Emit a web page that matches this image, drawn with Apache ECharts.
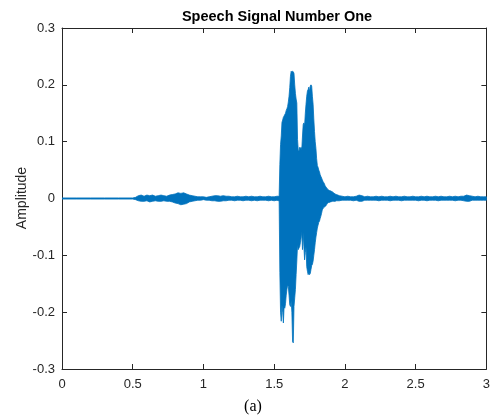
<!DOCTYPE html>
<html>
<head>
<meta charset="utf-8">
<script src="https://cdn.jsdelivr.net/npm/echarts@6/dist/echarts.min.js"></script>
<style>
  html, body { margin: 0; padding: 0; background: #fff; }
  #main { width: 493px; height: 417px; }
</style>
</head>
<body>
<div id="main"></div>
<script>
// time (s) of each envelope reading
var tSec = [
  0, 0.1, 0.2, 0.3, 0.4, 0.5,
  0.52, 0.54, 0.56, 0.58, 0.60, 0.62, 0.64, 0.66, 0.68, 0.70,
  0.72, 0.74, 0.76, 0.78, 0.80, 0.82, 0.84, 0.86, 0.88, 0.90,
  0.92, 0.94, 0.96, 0.98, 1.00, 1.02, 1.04, 1.06, 1.08, 1.10,
  1.12, 1.14, 1.16, 1.18, 1.20, 1.22, 1.24, 1.26, 1.28, 1.30,
  1.32, 1.34, 1.36, 1.38, 1.40, 1.42, 1.44, 1.46, 1.48, 1.50,
  1.52, 1.53,
  1.535, 1.540, 1.545, 1.550, 1.555, 1.560, 1.565, 1.570, 1.575, 1.580,
  1.585, 1.590, 1.595, 1.600, 1.605, 1.610, 1.615, 1.620, 1.625, 1.630,
  1.635, 1.640, 1.645, 1.650, 1.655, 1.660, 1.665, 1.670, 1.675, 1.680,
  1.685, 1.690, 1.695, 1.700, 1.705, 1.710, 1.715, 1.720, 1.725, 1.730,
  1.735, 1.740, 1.745, 1.750, 1.755, 1.760, 1.765, 1.770, 1.775, 1.780,
  1.785, 1.790, 1.795, 1.800, 1.805, 1.810, 1.815, 1.820, 1.825, 1.830,
  1.835, 1.840, 1.845, 1.850, 1.855, 1.860, 1.865, 1.870, 1.875, 1.880,
  1.885, 1.890, 1.895, 1.900, 1.910, 1.920, 1.930, 1.940, 1.950, 1.960,
  1.98, 2.00, 2.02, 2.04, 2.06, 2.08, 2.10, 2.12, 2.14, 2.16,
  2.18, 2.20, 2.22, 2.24, 2.26, 2.28, 2.30, 2.32, 2.34, 2.36,
  2.38, 2.40, 2.42, 2.44, 2.46, 2.48, 2.50, 2.52, 2.54, 2.56,
  2.58, 2.60, 2.62, 2.64, 2.66, 2.68, 2.70, 2.72, 2.74, 2.76,
  2.78, 2.80, 2.82, 2.84, 2.86, 2.88, 2.90, 2.92, 2.94, 2.96,
  2.98, 3.00
];

// upper envelope (positive peaks)
var hiAmp = [
  0.001, 0.001, 0.001, 0.001, 0.001, 0.001,
  0.002, 0.005, 0.006, 0.004, 0.006, 0.005, 0.006, 0.004, 0.005, 0.006,
  0.005, 0.004, 0.006, 0.007, 0.008, 0.010, 0.009, 0.010, 0.008, 0.006,
  0.005, 0.004, 0.003, 0.003, 0.003, 0.002, 0.003, 0.004, 0.005, 0.005,
  0.004, 0.005, 0.004, 0.004, 0.003, 0.003, 0.004, 0.003, 0.003, 0.004,
  0.003, 0.004, 0.003, 0.003, 0.004, 0.003, 0.003, 0.004, 0.003, 0.003,
  0.004, 0.004,
  0.005, 0.060, 0.095, 0.110, 0.134, 0.138, 0.143, 0.145, 0.148, 0.150,
  0.155, 0.158, 0.162, 0.170, 0.180, 0.195, 0.215, 0.224, 0.222, 0.224,
  0.223, 0.220, 0.200, 0.185, 0.175, 0.168, 0.104, 0.085, 0.083, 0.090,
  0.088, 0.090, 0.086, 0.110, 0.130, 0.133, 0.128, 0.150, 0.166, 0.180,
  0.189, 0.192, 0.196, 0.188, 0.198, 0.200, 0.198, 0.180, 0.166, 0.140,
  0.118, 0.100, 0.088, 0.070, 0.058, 0.055, 0.050, 0.047, 0.042, 0.039,
  0.036, 0.033, 0.030, 0.028, 0.026, 0.022, 0.021, 0.019, 0.017, 0.016,
  0.015, 0.014, 0.014, 0.013, 0.012, 0.010, 0.008, 0.007, 0.006, 0.005,
  0.004, 0.003, 0.004, 0.003, 0.003, 0.004, 0.006, 0.005, 0.003, 0.004,
  0.003, 0.003, 0.004, 0.003, 0.004, 0.003, 0.003, 0.004, 0.003, 0.004,
  0.003, 0.003, 0.004, 0.003, 0.003, 0.004, 0.003, 0.003, 0.004, 0.003,
  0.004, 0.003, 0.003, 0.004, 0.003, 0.004, 0.003, 0.003, 0.004, 0.003,
  0.004, 0.003, 0.004, 0.004, 0.006, 0.005, 0.004, 0.003, 0.004, 0.003,
  0.003, 0.003
];

// lower envelope (negative peaks)
var loAmp = [
  -0.001, -0.001, -0.001, -0.001, -0.001, -0.001,
  -0.002, -0.004, -0.005, -0.005, -0.004, -0.006, -0.005, -0.004, -0.005, -0.005,
  -0.004, -0.005, -0.005, -0.006, -0.008, -0.009, -0.011, -0.010, -0.009, -0.006,
  -0.005, -0.004, -0.003, -0.003, -0.002, -0.003, -0.003, -0.004, -0.004, -0.005,
  -0.005, -0.004, -0.004, -0.003, -0.003, -0.004, -0.003, -0.003, -0.004, -0.003,
  -0.003, -0.004, -0.003, -0.004, -0.003, -0.003, -0.003, -0.004, -0.003, -0.004,
  -0.003, -0.004,
  -0.005, -0.130, -0.200, -0.216, -0.187, -0.200, -0.219, -0.190, -0.193, -0.185,
  -0.170, -0.160, -0.152, -0.155, -0.170, -0.187, -0.190, -0.180, -0.200, -0.252,
  -0.254, -0.190, -0.175, -0.160, -0.134, -0.110, -0.081, -0.090, -0.087, -0.085,
  -0.078, -0.070, -0.058, -0.090, -0.060, -0.085, -0.108, -0.095, -0.085, -0.120,
  -0.128, -0.134, -0.130, -0.134, -0.132, -0.125, -0.118, -0.116, -0.110, -0.100,
  -0.090, -0.078, -0.068, -0.060, -0.052, -0.047, -0.042, -0.040, -0.035, -0.031,
  -0.026, -0.020, -0.018, -0.016, -0.015, -0.014, -0.013, -0.011, -0.009, -0.008,
  -0.007, -0.007, -0.006, -0.006, -0.005, -0.005, -0.005, -0.004, -0.004, -0.004,
  -0.003, -0.003, -0.003, -0.003, -0.004, -0.003, -0.005, -0.005, -0.003, -0.003,
  -0.003, -0.003, -0.003, -0.004, -0.003, -0.003, -0.003, -0.004, -0.003, -0.003,
  -0.003, -0.004, -0.003, -0.003, -0.003, -0.003, -0.003, -0.004, -0.003, -0.003,
  -0.004, -0.003, -0.003, -0.003, -0.004, -0.003, -0.003, -0.003, -0.003, -0.003,
  -0.004, -0.003, -0.003, -0.004, -0.005, -0.005, -0.003, -0.003, -0.003, -0.003,
  -0.003, -0.003
];

var xTicks = { min: 0, max: 3, interval: 0.5 };
var yTicks = { min: -0.3, max: 0.3, interval: 0.1 };

var waveColor = '#0072BD';
var axisColor = '#262626';
var fontFam = '"Liberation Sans", Arial, sans-serif';

var myChart = echarts.init(document.getElementById('main'));

function xAx(pos, showLabel) {
    return {
        type: 'value',
        position: pos,
        min: xTicks.min, max: xTicks.max, interval: xTicks.interval,
        axisLine: { show: true, onZero: false, lineStyle: { color: axisColor, width: 1 } },
        axisTick: { show: true, inside: true, length: 5, lineStyle: { color: axisColor } },
        axisLabel: {
            show: showLabel, color: axisColor, fontSize: 13, fontFamily: fontFam, margin: 9,
            formatter: function (v) { return String(+v.toFixed(1)); }
        },
        splitLine: { show: false }
    };
}

function yAx(pos, showLabel) {
    return {
        type: 'value',
        position: pos,
        min: yTicks.min, max: yTicks.max, interval: yTicks.interval,
        axisLine: { show: true, onZero: false, lineStyle: { color: axisColor, width: 1 } },
        axisTick: { show: true, inside: true, length: 5, lineStyle: { color: axisColor } },
        axisLabel: {
            show: showLabel, color: axisColor, fontSize: 13, fontFamily: fontFam, margin: 7,
            formatter: function (v) { return String(+v.toFixed(1)); }
        },
        splitLine: { show: false }
    };
}

// whole waveform as one filled shape: upper envelope out, lower envelope back
function renderWave(params, api) {
    if (params.dataIndex !== 0) return;
    var pts = [];
    for (var i = 0; i < tSec.length; i++) pts.push(api.coord([tSec[i], hiAmp[i]]));
    for (var j = tSec.length - 1; j >= 0; j--) pts.push(api.coord([tSec[j], loAmp[j]]));
    return {
        type: 'polygon',
        shape: { points: pts },
        style: { fill: waveColor, stroke: waveColor, lineWidth: 0.8 }
    };
}

var option = {
    animation: false,
    backgroundColor: '#fff',
    grid: { left: 62, right: 3, top: 28, bottom: 48 },
    xAxis: [xAx('bottom', true), xAx('top', false)],
    yAxis: [yAx('left', true), yAx('right', false)],
    graphic: [
        {
            type: 'text', x: 277, y: 17,
            style: { text: 'Speech Signal Number One', font: 'bold 14.5px ' + fontFam,
                     fill: '#000', textAlign: 'center', textVerticalAlign: 'middle' }
        },
        {
            type: 'text', x: 22, y: 198, rotation: Math.PI / 2,
            style: { text: 'Amplitude', font: '14px ' + fontFam,
                     fill: axisColor, textAlign: 'center', textVerticalAlign: 'middle' }
        },
        {
            type: 'text', x: 253, y: 407,
            style: { text: '(a)', font: '16px "Liberation Serif", "Times New Roman", serif',
                     fill: '#000', textAlign: 'center', textVerticalAlign: 'middle' }
        }
    ],
    series: [
        {
            type: 'custom',
            coordinateSystem: 'cartesian2d',
            data: tSec.map(function (t, i) { return [t, hiAmp[i], loAmp[i]]; }),
            encode: { x: 0, y: [1, 2] },
            renderItem: renderWave,
            clip: true
        }
    ]
};

myChart.setOption(option);
</script>
</body>
</html>
